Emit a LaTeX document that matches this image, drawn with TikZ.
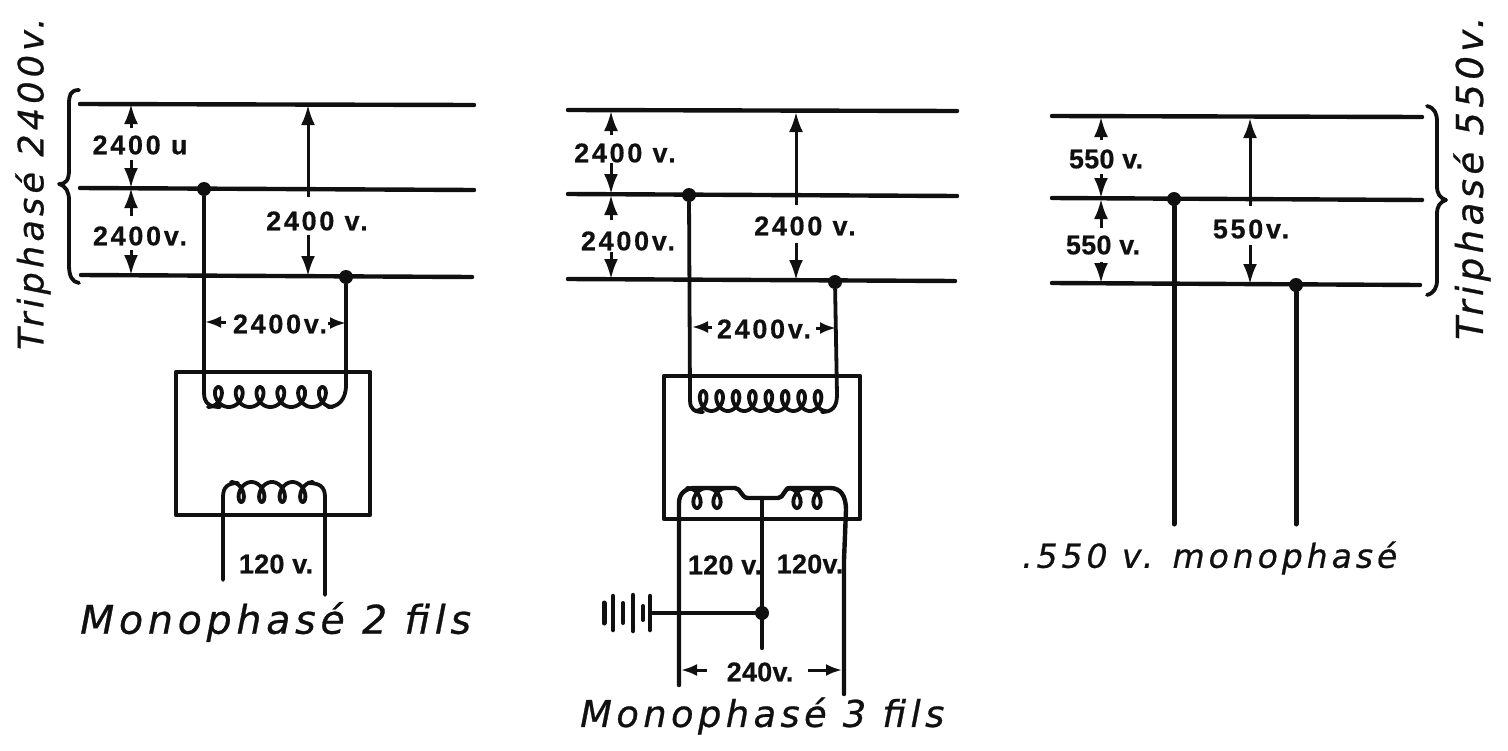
\documentclass[tikz,border=0pt]{standalone}
\usepackage{fontspec}
\usetikzlibrary{arrows.meta}
\setmainfont{DejaVu Sans}
\newfontfamily\hand[LetterSpace=12,FakeBold=0.7]{DejaVu Sans Oblique}
\newfontfamily\volt[LetterSpace=10,FakeBold=0.5]{Liberation Sans Bold}
\newfontfamily\voltn[LetterSpace=1,FakeBold=0.5]{Liberation Sans Bold}
\definecolor{ink}{HTML}{101010}
\newcommand{\coilcurve}[7]{plot[domain=0:#6*360,samples=#6*36+1,variable=\t]({#1+#5*(\t/360)+#3*sin(\t)},{#2+#7*#4*cos(\t)})}
\tikzset{
  wire/.style={draw=ink,line width=4.4pt,line cap=round,line join=round},
  thin wire/.style={draw=ink,line width=3.8pt,line cap=round,line join=round},
  core/.style={draw=ink,line width=4.4pt,line join=round},
  dimen/.style={draw=ink,line width=3pt,-{Latex[length=20pt,width=14pt]}},
  dimenh/.style={draw=ink,line width=3pt,-{Latex[length=16pt,width=12pt]}},
  dot/.style={circle,fill=ink,inner sep=0pt,minimum size=14pt},
  vlab/.style={font=\volt\fontsize{27}{27}\selectfont,text=ink,inner sep=0pt},
  vlabn/.style={font=\voltn\fontsize{27}{27}\selectfont,text=ink,inner sep=0pt},
  title/.style={text=ink,inner sep=0pt},
  brace/.style={draw=ink,line width=3.8pt,line cap=round,line join=round}
}
\begin{document}
\begin{tikzpicture}[x=1pt,y=-1pt]
\useasboundingbox (0,0) rectangle (1508,750);
\fill[white] (0,0) rectangle (1508,750);

% ---------- left group
\coordinate (a1l) at (80,104);  \coordinate (a1r) at (474,105);
\coordinate (a2l) at (80,188);  \coordinate (a2r) at (474,190);
\coordinate (a3l) at (81,275);  \coordinate (a3r) at (472,277);
\draw[wire] (a1l)--(a1r); \draw[wire] (a2l)--(a2r); \draw[wire] (a3l)--(a3r);
\node[dot] (aD1) at (204,189) {};
\node[dot] (aD2) at (346,277) {};
\draw[core] (176,372) rectangle (370,515);
\draw[thin wire] (aD1) -- (204,393) .. controls (204,405) and (212,407) .. (220,407);
\draw[thin wire] (aD2) -- (346,385) .. controls (346,400) and (338,407) .. (328,407);
\draw[thin wire] \coilcurve{208}{397}{8}{10}{20.8}{6}{1};
\draw[thin wire] (223,580) -- (223,497) .. controls (223,487) and (228,483) .. (238,483);
\draw[thin wire] (325,595) -- (325,497) .. controls (325,487) and (320,483) .. (308,483);
\draw[thin wire] \coilcurve{231}{492}{7}{10}{20.5}{4}{-1};

\draw[dimen] (131,128)--(131,104);
\draw[dimen] (131,160)--(131,188);
\draw[dimen] (131,216)--(131,188);
\draw[dimen] (131,250)--(131,275);
\draw[dimen] (308,197)--(308,105);
\draw[dimen] (308,235)--(308,276);
\draw[dimenh] (226,322)--(205,322);
\draw[dimenh] (328,323)--(346,323);
\node[vlab] (aL1) at (140,145) {2400 u};
\node[vlab] (aL2) at (140,236) {2400v.};
\node[vlab] (aL3) at (317,221) {2400 v.};
\node[vlab] (aL4) at (280,324) {2400v.};
\node[vlabn] (aL5) at (276,564) {120 v.};
\node[title,anchor=west,font=\hand\fontsize{39.5}{39.5}\selectfont] (aT) at (80,622) {Monophasé 2 fils};

% ---------- middle group
\coordinate (b1l) at (568,110);  \coordinate (b1r) at (957,111);
\coordinate (b2l) at (568,194);  \coordinate (b2r) at (957,196);
\coordinate (b3l) at (568,279);  \coordinate (b3r) at (955,281);
\draw[wire] (b1l)--(b1r); \draw[wire] (b2l)--(b2r); \draw[wire] (b3l)--(b3r);
\node[dot] (bD1) at (689,195) {};
\node[dot] (bD2) at (835,282) {};
\draw[core] (664,376) rectangle (860,519);
\draw[thin wire] (bD1) -- (690,400) .. controls (690,410) and (695,412) .. (703,412);
\draw[thin wire] (bD2) -- (837,395) .. controls (837,407) and (832,412) .. (822,412);
\draw[thin wire] \coilcurve{695}{401}{7}{10}{16.4}{8}{1};
% secondary
\coordinate (bS1) at (679,685);
\coordinate (bS2) at (844,694);
\coordinate (bC) at (762,648);
\draw[wire] (bS1) -- (679,503) .. controls (679,493) and (686,488) .. (695,488) -- (735,488) .. controls (741,488) and (741,498) .. (748,498) -- (778,498) .. controls (784,498) and (784,488) .. (790,488) -- (830,488) .. controls (840,488) and (846,495) .. (846,510) -- (844,560) -- (bS2);
\draw[thin wire] \coilcurve{687}{498}{8}{10}{20}{2}{-1};
\draw[thin wire] \coilcurve{787}{498}{8}{10}{20}{2}{-1};
\draw[wire] (762,498) -- (bC);
\node[dot] (bD3) at (762,613) {};
\draw[wire] (bD3) -- (653,613);
\foreach \px/\ph/\pw in {604/10/5,613/17/4.5,623/10/4,633/18/4.5,643/7/4,650/17/4.5}
  \draw[draw=ink,line width=\pw pt,line cap=round] (\px,613-\ph)--(\px,613+\ph);
\draw[dimenh] (707,670)--(681,670);
\draw[dimenh] (808,670)--(842,670);

\draw[dimen] (611,135)--(611,111);
\draw[dimen] (611,163)--(611,194);
\draw[dimen] (611,220)--(611,195);
\draw[dimen] (611,252)--(611,279);
\draw[dimen] (796,205)--(796,112);
\draw[dimen] (796,243)--(796,280);
\draw[dimenh] (712,327)--(692,327);
\draw[dimenh] (816,328)--(836,328);
\node[vlab] (bL1) at (625,153) {2400 v.};
\node[vlab] (bL2) at (628,241) {2400v.};
\node[vlab] (bL3) at (805,226) {2400 v.};
\node[vlab] (bL4) at (764,329) {2400v.};
\node[vlabn] (bL5) at (725,565) {120 v.};
\node[vlabn] (bL6) at (810,564) {120v.};
\node[vlabn] (bL7) at (760,672) {240v.};
\node[title,anchor=west,font=\hand\fontsize{36.8}{36.8}\selectfont] (bT) at (580,716) {Monophasé 3 fils};

% ---------- right group
\coordinate (c1l) at (1052,116);  \coordinate (c1r) at (1422,117);
\coordinate (c2l) at (1052,198);  \coordinate (c2r) at (1422,200);
\coordinate (c3l) at (1052,283);  \coordinate (c3r) at (1420,285);
\draw[wire] (c1l)--(c1r); \draw[wire] (c2l)--(c2r); \draw[wire] (c3l)--(c3r);
\node[dot] (cD1) at (1174,199) {};
\node[dot] (cD2) at (1296,285) {};
\coordinate (cE1) at (1174,524);
\coordinate (cE2) at (1296,524);
\draw[wire,line width=5pt] (cD1)--(cE1);
\draw[wire,line width=5pt] (cD2)--(cE2);
\draw[dimen] (1101,140)--(1101,117);
\draw[dimen] (1101,174)--(1101,198);
\draw[dimen] (1101,228)--(1101,199);
\draw[dimen] (1101,262)--(1101,283);
\draw[dimen] (1250,206)--(1250,118);
\draw[dimen] (1250,245)--(1250,284);
\node[vlabn] (cL1) at (1106,159) {550 v.};
\node[vlabn] (cL2) at (1103,245) {550 v.};
\node[vlab] (cL3) at (1251,229) {550v.};
\node[title,anchor=west,font=\hand\fontsize{33}{33}\selectfont] (cT) at (1022,558) {.550 v. monophasé};

% ---------- braces and rotated titles
\draw[brace] (79,90) .. controls (70,90) and (69,96) .. (69,104) -- (69,170) .. controls (69,180) and (66,184) .. (59,184) .. controls (66,186) and (69,192) .. (69,200) -- (69,265) .. controls (69,276) and (72,282) .. (79,283);
\draw[brace] (1427,106) .. controls (1435,108) and (1437,114) .. (1437,122) -- (1437,186) .. controls (1437,194) and (1440,198) .. (1446,200) .. controls (1440,202) and (1437,206) .. (1437,214) -- (1437,280) .. controls (1437,288) and (1434,293) .. (1427,295);
\node[title,rotate=90,anchor=west,font=\hand\fontsize{35}{35}\selectfont] (aR) at (33,350) {Triphasé 2400v.};
\node[title,rotate=90,anchor=west,font=\hand\fontsize{37}{37}\selectfont] (cR) at (1472,340) {Triphasé 550v.};
\end{tikzpicture}
\end{document}
